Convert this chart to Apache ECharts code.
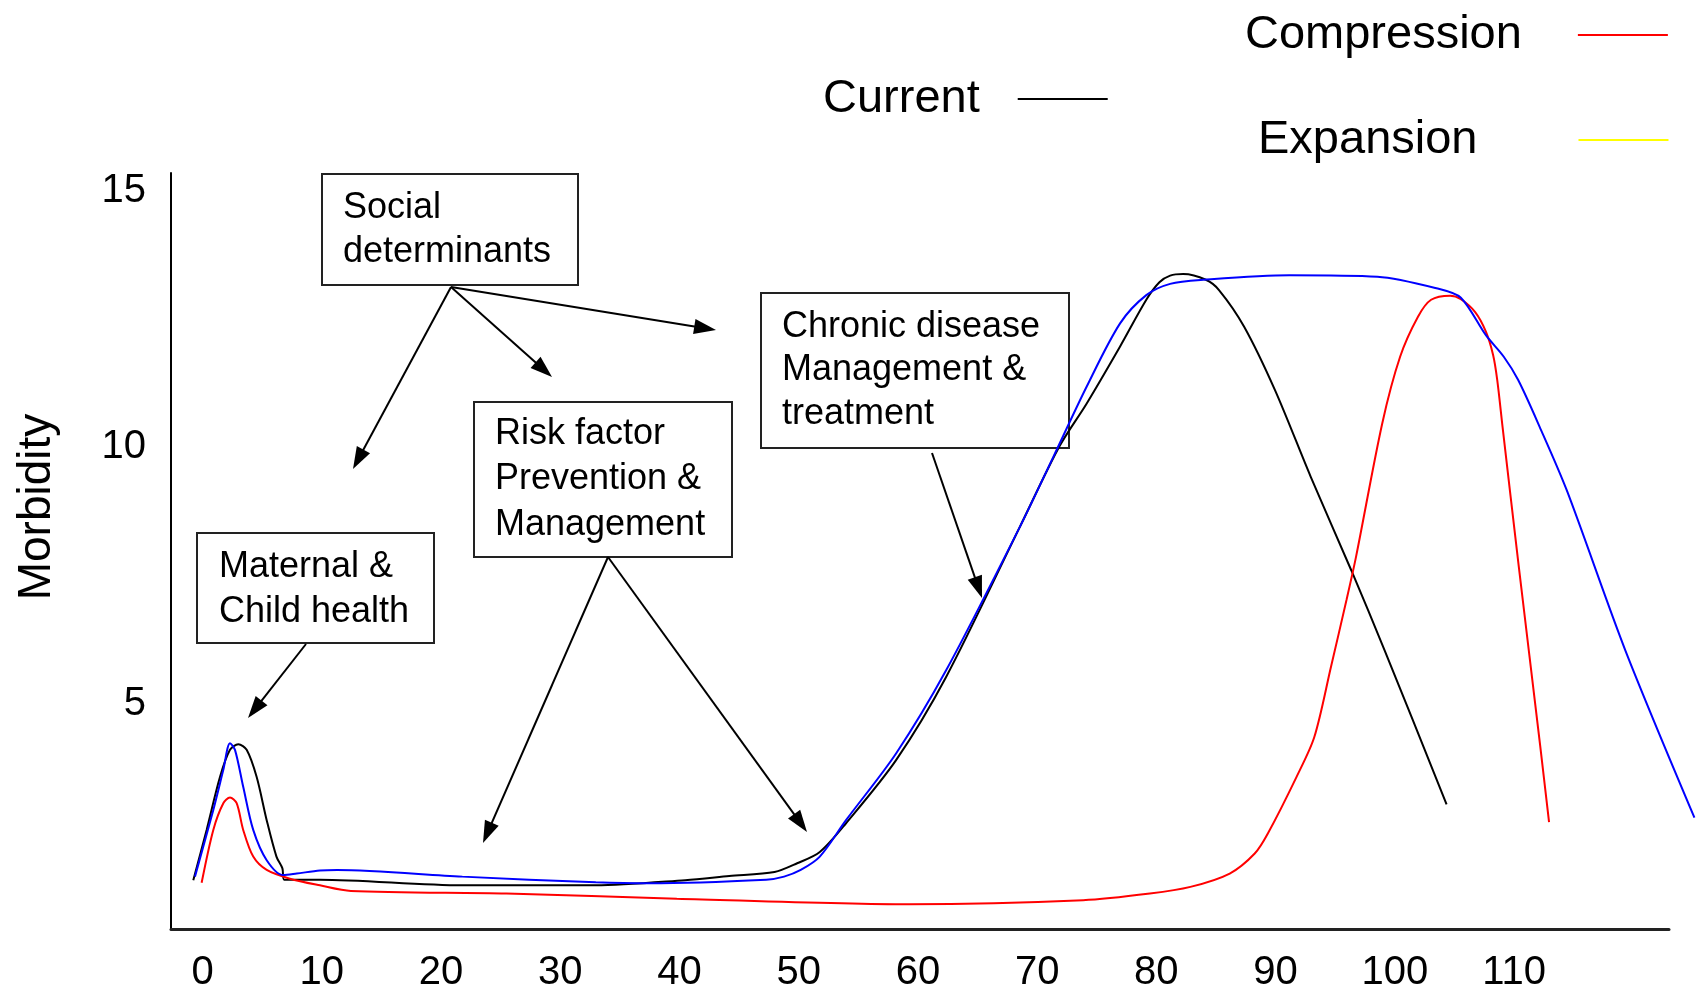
<!DOCTYPE html>
<html>
<head>
<meta charset="utf-8">
<script src="https://cdn.jsdelivr.net/npm/echarts@6/dist/echarts.min.js"></script>
<style>
html, body { margin: 0; padding: 0; background: #fff; }
#chart { width: 1698px; height: 993px; }
</style>
</head>
<body>
<div id="chart"></div>
<script>
// values: age (x) vs morbidity (y)
const currentAge = [-0.78, 0.34, 1.46, 2.3, 3.0, 3.7, 4.54, 5.38, 6.2, 6.7, 6.85, 9.85, 21.8, 33.0, 40.5, 44.2, 48.0, 49.9, 51.8, 54.0, 58.2, 62.4, 68.6, 71.9, 74.2, 77.0, 79.2, 80.3, 81.2, 82.3, 84.2, 85.3, 87.4, 90.0, 93.0, 96.4, 99.2, 104.4];
const currentMorb = [1.57, 2.55, 3.58, 4.11, 4.22, 4.11, 3.58, 2.74, 2.03, 1.80, 1.58, 1.58, 1.47, 1.47, 1.57, 1.65, 1.73, 1.90, 2.12, 2.68, 3.91, 5.53, 8.46, 10.02, 10.86, 11.97, 12.88, 13.22, 13.35, 13.38, 13.27, 13.07, 12.36, 11.12, 9.43, 7.61, 6.05, 3.05];

const compAge = [-0.08, 0.9, 1.74, 2.3, 2.86, 3.41, 4.25, 5.38, 7.33, 9.85, 12.45, 25.5, 39.8, 59.3, 73.9, 79.5, 82.9, 86.2, 88.3, 89.4, 91.8, 93.3, 94.7, 96.0, 96.8, 99.0, 100.5, 102.0, 103.1, 104.7, 105.6, 106.8, 107.7, 108.3, 108.65, 109.1, 110.45, 112.25, 113.0];
const compMorb = [1.52, 2.55, 3.07, 3.18, 3.07, 2.55, 2.03, 1.77, 1.60, 1.47, 1.36, 1.31, 1.21, 1.10, 1.18, 1.31, 1.44, 1.70, 2.09, 2.48, 3.58, 4.36, 5.73, 7.03, 7.87, 10.47, 11.77, 12.55, 12.88, 12.96, 12.89, 12.64, 12.26, 11.81, 11.32, 10.40, 7.70, 4.20, 2.70];

const expAge = [-0.64, 0.9, 1.74, 2.3, 2.72, 3.41, 4.25, 5.38, 6.77, 7.9, 9.85, 11.3, 21.8, 33.0, 37.5, 47.3, 48.8, 50.2, 51.8, 54.0, 58.2, 62.4, 68.6, 71.4, 74.2, 77.0, 79.2, 81.2, 84.0, 91.2, 98.6, 103.8, 105.6, 107.7, 109.2, 110.4, 112.2, 114.5, 119.4, 125.2];
const expMorb = [1.64, 2.94, 3.72, 4.24, 4.11, 3.39, 2.55, 1.96, 1.67, 1.70, 1.76, 1.77, 1.64, 1.53, 1.51, 1.58, 1.64, 1.77, 2.03, 2.74, 4.04, 5.66, 8.46, 9.82, 11.19, 12.42, 12.97, 13.19, 13.27, 13.36, 13.33, 13.09, 12.92, 12.19, 11.77, 11.32, 10.41, 9.16, 6.05, 2.79];

const xTicks = [0, 10, 20, 30, 40, 50, 60, 70, 80, 90, 100, 110];
const yTicks = [5, 10, 15];

const FONT = 'Liberation Sans, Arial, sans-serif';
const HEAD = 22;

const X_MIN = -2.65, X_MAX = 123, X_MAX_DRAW = 125.5;
const Y_MIN = 0.6, Y_MAX = 15.35;
const GRID_W = 1498;

function zip(xs, ys) {
   return xs.map((x, i) => [x, ys[i]]);
}

// arrow from (x1,y1) to tip (x2,y2); line stops at the triangle centre
function arrow(x1, y1, x2, y2) {
   const dx = x2 - x1, dy = y2 - y1, len = Math.hypot(dx, dy);
   const k = (len - HEAD / 2) / len;
   return [{ x: x1, y: y1 }, { x: x1 + dx * k, y: y1 + dy * k }];
}

// annotation boxes
const boxes = [
   { x: 322, y: 174, w: 256, h: 111, tx: 343, ty: 186, lh: 44, text: 'Social\ndeterminants' },
   { x: 474, y: 402, w: 258, h: 155, tx: 495, ty: 411, lh: 45.5, text: 'Risk factor\nPrevention &\nManagement' },
   { x: 761, y: 293, w: 308, h: 155, tx: 782, ty: 305, lh: 43.7, text: 'Chronic disease\nManagement &\ntreatment' },
   { x: 197, y: 533, w: 237, h: 110, tx: 219, ty: 544, lh: 45.5, text: 'Maternal &\nChild health' }
];

const graphic = [];
boxes.forEach(b => {
   graphic.push({
      type: 'rect',
      shape: { x: b.x, y: b.y, width: b.w, height: b.h },
      style: { fill: 'none', stroke: '#222', lineWidth: 2 },
      silent: true
   });
   graphic.push({
      type: 'text',
      x: b.tx,
      y: b.ty,
      style: {
         text: b.text,
         fontSize: 36,
         fontFamily: FONT,
         lineHeight: b.lh,
         fill: '#000',
         verticalAlign: 'top'
      },
      silent: true
   });
});

const arrows = [
   arrow(451, 287, 353, 469),
   arrow(451, 287, 552, 377),
   arrow(451, 287, 716, 330),
   arrow(306, 644, 248, 718),
   arrow(608, 557, 483, 843),
   arrow(608, 557, 807, 832),
   arrow(932, 453, 982, 598)
];

function legendFor(name, left, top, padRight, padBottom, color) {
   const item = { name: name };
   if (color) {
      item.itemStyle = { color: color };
      item.lineStyle = { color: color };
   }
   return {
      data: [item],
      left: left,
      top: top,
      align: 'right',
      orient: 'horizontal',
      icon: 'rect',
      itemWidth: 90,
      itemHeight: 2,
      selectedMode: false,
      padding: 0,
      textStyle: {
         fontSize: 47,
         fontFamily: FONT,
         color: '#000',
         lineHeight: 56,
         padding: [0, padRight, padBottom, 0]
      }
   };
}

const lineBase = {
   type: 'line',
   xAxisIndex: 1,
   yAxisIndex: 1,
   smooth: 0.3,
   showSymbol: false,
   clip: false
};

const chart = echarts.init(document.getElementById('chart'));
chart.setOption({
   animation: false,
   backgroundColor: '#fff',
   // grid 0 shows the axes, grid 1 (same scale, a bit wider) carries the curves
   grid: [
      { left: 171, top: 173, width: GRID_W, height: 757 },
      { left: 171, top: 173, width: GRID_W * (X_MAX_DRAW - X_MIN) / (X_MAX - X_MIN), height: 757 }
   ],
   legend: [
      legendFor('Current', 823, 70, 33, 2),
      legendFor('Compression', 1245, -3, 51, 20),
      legendFor('Expansion', 1258, 101, 96, 22, '#ffff00')
   ],
   xAxis: [
      {
         type: 'value',
         gridIndex: 0,
         min: X_MIN,
         max: X_MAX,
         axisLine: { onZero: false, lineStyle: { color: '#222', width: 3 } },
         axisTick: { show: false },
         splitLine: { show: false },
         axisLabel: {
            customValues: xTicks,
            fontSize: 40,
            fontFamily: FONT,
            color: '#000',
            margin: 24
         }
      },
      {
         type: 'value',
         gridIndex: 1,
         min: X_MIN,
         max: X_MAX_DRAW,
         show: false
      }
   ],
   yAxis: [
      {
         type: 'value',
         gridIndex: 0,
         min: Y_MIN,
         max: Y_MAX,
         name: 'Morbidity',
         nameLocation: 'middle',
         nameGap: 111,
         nameTextStyle: {
            fontSize: 46,
            fontFamily: FONT,
            color: '#000',
            padding: [0, 0, 0, 88]
         },
         axisLine: { show: true, onZero: false, lineStyle: { color: '#000', width: 2 } },
         axisTick: { show: false },
         splitLine: { show: false },
         axisLabel: {
            customValues: yTicks,
            fontSize: 40,
            fontFamily: FONT,
            color: '#000',
            margin: 25,
            padding: [6, 0, 0, 0]
         }
      },
      {
         type: 'value',
         gridIndex: 1,
         min: Y_MIN,
         max: Y_MAX,
         show: false
      }
   ],
   graphic: graphic,
   series: [
      Object.assign({}, lineBase, {
         name: 'Current',
         data: zip(currentAge, currentMorb),
         color: '#000',
         lineStyle: { color: '#000', width: 2 },
         markLine: {
            silent: true,
            symbol: ['none', 'triangle'],
            symbolSize: [15, HEAD],
            label: { show: false },
            lineStyle: { color: '#000', width: 2, type: 'solid' },
            emphasis: { disabled: true },
            data: arrows
         }
      }),
      Object.assign({}, lineBase, {
         name: 'Compression',
         data: zip(compAge, compMorb),
         color: '#ff0000',
         lineStyle: { color: '#ff0000', width: 2 }
      }),
      Object.assign({}, lineBase, {
         name: 'Expansion',
         data: zip(expAge, expMorb),
         color: '#0000ff',
         lineStyle: { color: '#0000ff', width: 2 }
      })
   ]
});
</script>
</body>
</html>
